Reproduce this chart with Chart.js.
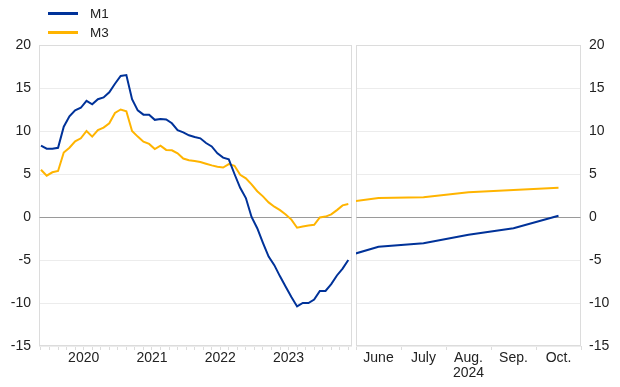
<!DOCTYPE html>
<html>
<head>
<meta charset="utf-8">
<script src="https://cdn.jsdelivr.net/npm/chart.js@4/dist/chart.umd.min.js"></script>
<style>
  body { margin: 0; background: #fff; }
  #wrap { position: relative; width: 620px; height: 387px; overflow: hidden; }
  #histBox { position: absolute; left: 0; top: 0; }
  #recentBox { position: absolute; left: 354px; top: 0; }
  #legend { position: absolute; left: 48px; top: 4px; font: 13.5px 'Liberation Sans', Arial, sans-serif; color: #222; }
  #legend .item { position: relative; height: 19px; line-height: 19px; padding-left: 42px; }
  #legend .swatch { position: absolute; left: 0; top: 8px; width: 30px; height: 2.5px; }
</style>
</head>
<body>
<div id="wrap">
  <div id="histBox"><canvas id="hist" width="354" height="387"></canvas></div>
  <div id="recentBox"><canvas id="recent" width="266" height="387"></canvas></div>
  <div id="legend"></div>
</div>
<script>
// Annual growth rates, percentages
Chart.defaults.font.family = "'Liberation Sans', Arial, sans-serif";
Chart.defaults.font.size = 14;
Chart.defaults.color = '#222';

const BLUE = '#003299';
const YELLOW = '#ffb400';

// monthly history, Nov 2019 .. May 2024 (x = months after Jan 2020)
const histFirstMonth = -2;
const yearLabels = ['2020', '2021', '2022', '2023'];
const m1Hist = [
  8.3, 7.95, 7.95, 8.05, 10.5, 11.7, 12.4, 12.7, 13.5, 13.1, 13.7, 13.9, 14.5,
  15.5, 16.4, 16.5, 13.7, 12.4, 11.9, 11.9, 11.3, 11.4, 11.35, 10.9, 10.1, 9.85,
  9.5, 9.3, 9.15, 8.6, 8.2, 7.4, 6.9, 6.7, 5.0, 3.4, 2.2, 0.0, -1.3, -3.0, -4.6,
  -5.6, -6.9, -8.1, -9.3, -10.4, -10.0, -10.0, -9.6, -8.6, -8.6, -7.8, -6.8, -6.0, -5.0
];
const m3Hist = [
  5.5, 4.8, 5.2, 5.35, 7.5, 8.05, 8.8, 9.15, 10.0, 9.35, 10.1, 10.4, 10.9,
  12.1, 12.5, 12.3, 10.0, 9.35, 8.75, 8.5, 7.9, 8.3, 7.8, 7.75, 7.4, 6.8,
  6.6, 6.5, 6.4, 6.2, 6.0, 5.85, 5.75, 6.15, 5.95, 4.9, 4.5, 3.8, 3.0, 2.4, 1.7,
  1.2, 0.8, 0.3, -0.3, -1.25, -1.1, -1.0, -0.9, -0.05, 0.05, 0.3, 0.8, 1.35, 1.5
];

// recent months, 2024
const recentMonths = ['May', 'June', 'July', 'Aug.', 'Sep.', 'Oct.'];
const recentYear = '2024';
const m1Recent = [-5.0, -3.45, -3.06, -2.06, -1.3, 0.15];
const m3Recent = [1.5, 2.2, 2.3, 2.87, 3.14, 3.4];

const yTicks = { min: -15, max: 20, step: 5 };

const histPts = arr => arr.map((v, i) => ({ x: histFirstMonth + i + 0.5, y: v }));
const recentPts = arr => arr.map((v, i) => ({ x: i, y: v }));

function gridColor(ctx) {
  return ctx.tick && ctx.tick.value === 0 ? '#9a9a9a' : '#ececec';
}

const framePlugin = {
  id: 'frame',
  beforeDatasetsDraw(chart) {
    const a = chart.chartArea;
    const ctx = chart.ctx;
    ctx.save();
    ctx.strokeStyle = '#dcdcdc';
    ctx.lineWidth = 1;
    const l = Math.round(a.left) + 0.5, t = Math.round(a.top) + 0.5;
    const r = Math.round(a.right) - 0.5, b = Math.round(a.bottom) - 0.5;
    ctx.strokeRect(l, t, r - l, b - t);
    // zero line on top of frame grid
    const y0 = Math.round(chart.scales.y.getPixelForValue(0)) + 0.5;
    ctx.strokeStyle = '#9a9a9a';
    ctx.beginPath(); ctx.moveTo(l, y0); ctx.lineTo(r, y0); ctx.stroke();
    ctx.restore();
  }
};

function yScale(position, width) {
  return {
    position: position,
    min: yTicks.min, max: yTicks.max,
    ticks: { stepSize: yTicks.step, padding: 8, color: '#222', font: { size: 14 } },
    grid: { color: gridColor, drawTicks: false },
    border: { display: false },
    afterFit: s => { s.width = width; }
  };
}

function lineSet(label, color, data) {
  return {
    label: label, data: data, borderColor: color, backgroundColor: color,
    borderWidth: 2, pointRadius: 0, tension: 0, clip: 0
  };
}

const histChart = new Chart(document.getElementById('hist'), {
  type: 'line',
  data: {
    datasets: [
      lineSet('M1', BLUE, histPts(m1Hist)),
      lineSet('M3', YELLOW, histPts(m3Hist))
    ]
  },
  options: {
    responsive: false, animation: false, devicePixelRatio: 1,
    layout: { padding: { top: 45, right: 2, left: 0, bottom: 0 } },
    plugins: { legend: { display: false }, tooltip: { enabled: false } },
    scales: {
      x: {
        type: 'linear', min: -1.85, max: 53.15,
        afterBuildTicks: s => {
          const t = [];
          for (let v = -1.5; v <= 52.5; v += 1.5) t.push({ value: v });
          s.ticks = t;
        },
        ticks: {
          autoSkip: false, maxRotation: 0, padding: 0, color: '#222',
          callback: v => {
            const k = (v - 6) / 12;
            return Number.isInteger(k) && yearLabels[k] ? yearLabels[k] : '';
          }
        },
        grid: { drawOnChartArea: false, tickLength: 4, tickColor: '#dcdcdc' },
        border: { display: false },
        afterFit: s => { s.height = 41; }
      },
      y: yScale('left', 39)
    }
  },
  plugins: [framePlugin]
});

const recentChart = new Chart(document.getElementById('recent'), {
  type: 'line',
  data: {
    datasets: [
      lineSet('M1', BLUE, recentPts(m1Recent)),
      lineSet('M3', YELLOW, recentPts(m3Recent))
    ]
  },
  options: {
    responsive: false, animation: false, devicePixelRatio: 1,
    layout: { padding: { top: 45, right: 0, left: 2, bottom: 0 } },
    plugins: { legend: { display: false }, tooltip: { enabled: false } },
    scales: {
      x: {
        type: 'linear', min: 0.5, max: recentMonths.length - 0.5,
        afterBuildTicks: s => {
          const t = [];
          for (let v = 0.5; v <= recentMonths.length - 0.5; v += 0.5) t.push({ value: v });
          s.ticks = t;
        },
        ticks: {
          autoSkip: false, maxRotation: 0, padding: 0, color: '#222',
          font: { size: 14, lineHeight: 1.1 },
          callback: v => {
            if (!Number.isInteger(v)) return '';
            const name = recentMonths[v];
            return v === 3 ? [name, recentYear] : name;
          }
        },
        grid: {
          drawOnChartArea: false, tickLength: 4,
          tickColor: c => Number.isInteger(c.tick.value) ? 'rgba(0,0,0,0)' : '#dcdcdc'
        },
        border: { display: false },
        afterFit: s => { s.height = 41; }
      },
      y: yScale('right', 39)
    }
  },
  plugins: [framePlugin]
});

// legend built from the chart's datasets
const legendEl = document.getElementById('legend');
histChart.data.datasets.forEach(ds => {
  const item = document.createElement('div');
  item.className = 'item';
  const sw = document.createElement('span');
  sw.className = 'swatch';
  sw.style.background = ds.borderColor;
  item.appendChild(sw);
  item.appendChild(document.createTextNode(ds.label));
  legendEl.appendChild(item);
});
</script>
</body>
</html>
